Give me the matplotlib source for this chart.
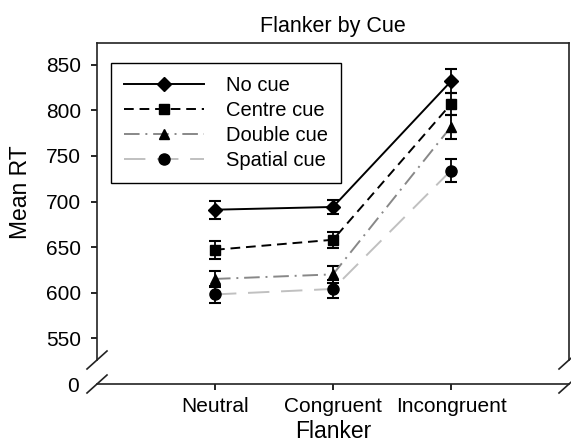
import numpy as np
import matplotlib
matplotlib.use("Agg")
import matplotlib.pyplot as plt

plt.rcParams['font.family'] = ['Liberation Sans', 'DejaVu Sans']

# ── data ──────────────────────────────────────────────────────────────
flanker = ["Neutral", "Congruent", "Incongruent"]
cues = ["No cue", "Centre cue", "Double cue", "Spatial cue"]
mean_rt = {
    "No cue":      [691, 694, 832],
    "Centre cue":  [647, 658, 807],
    "Double cue":  [615, 620, 782],
    "Spatial cue": [598, 604, 734],
}
err_rt = {
    "No cue":      [10, 8, 13],
    "Centre cue":  [10, 9, 12],
    "Double cue":  [9, 9, 13],
    "Spatial cue": [9, 10, 13],
}

styles = {
    "No cue":      dict(color="black",   ls="-",               marker="D", ms=7),
    "Centre cue":  dict(color="black",   ls=(0, (5, 3)),       marker="s", ms=7),
    "Double cue":  dict(color="#888888", ls=(0, (8, 3, 1, 3)), marker="^", ms=7.5),
    "Spatial cue": dict(color="#c0c0c0", ls=(0, (11, 6)),      marker="o", ms=8),
}

x = np.arange(1, len(flanker) + 1)

fig = plt.figure(figsize=(5.71, 4.45), dpi=100)
left, width = 97 / 571, 472 / 571
ax = fig.add_axes([left, 1 - 360 / 445, width, (360 - 43) / 445])
ax_lo = fig.add_axes([left, 1 - 384 / 445, width, 8 / 445])

for cue in cues:
    st = styles[cue]
    ax.errorbar(x, mean_rt[cue], yerr=err_rt[cue], fmt="none", ecolor="black",
                elinewidth=1.3, capsize=4.5, capthick=1.5)
    ax.plot(x, mean_rt[cue], color=st["color"], ls=st["ls"], lw=1.4,
            marker=st["marker"], ms=st["ms"], mfc="black", mec="black", label=cue)

ax.set_xlim(0, 4)
ax.set_ylim(526, 874)
ax.set_yticks([550, 600, 650, 700, 750, 800, 850])
ax.set_xticks([])
ax.tick_params(axis="y", direction="out", length=4.5, width=1.2, labelsize=15, pad=7)
for s in ax.spines.values():
    s.set_linewidth(1.2)
    s.set_color("#222222")
ax.spines["bottom"].set_visible(False)
ax.set_ylabel("Mean RT", fontsize=16.5)
ax.yaxis.set_label_coords(-0.138, 0.53)
ax.set_title("Flanker by Cue", fontsize=15.5, pad=8)

leg = ax.legend(loc="upper left", bbox_to_anchor=(0.0297, 0.937), fontsize=14.5,
                handlelength=3.95, handletextpad=1.1, labelspacing=0.3,
                fancybox=False, edgecolor="black", framealpha=1,
                borderpad=0.65, borderaxespad=0)
leg.get_frame().set_linewidth(1.0)

# lower axis (0 segment)
ax_lo.set_xlim(0, 4)
ax_lo.set_ylim(0, 10)
ax_lo.set_xticks(x)
ax_lo.set_xticklabels(flanker, fontsize=15)
ax_lo.set_yticks([0])
ax_lo.tick_params(axis="y", length=0, labelsize=15, pad=13)
ax_lo.tick_params(axis="x", direction="out", length=4.5, width=1.2, pad=5)
for side in ["left", "right", "top"]:
    ax_lo.spines[side].set_visible(False)
ax_lo.spines["bottom"].set_linewidth(1.2)
ax_lo.spines["bottom"].set_color("#222222")
ax_lo.patch.set_alpha(0)
ax_lo.set_xlabel("Flanker", fontsize=16.5, labelpad=3)

# break marks
def brk(a, xa, ya):
    fx, fy = fig.transFigure.inverted().transform(a.transAxes.transform((xa, ya)))
    dx, dy = 10 / 571, 9 / 445
    fig.add_artist(plt.Line2D([fx - dx, fx + dx], [fy - dy, fy + dy],
                              color="#222222", lw=1.2))

for xa in (0, 1):
    brk(ax, xa, 0)
    brk(ax_lo, xa, 0)

fig.savefig("out.png", dpi=100)
